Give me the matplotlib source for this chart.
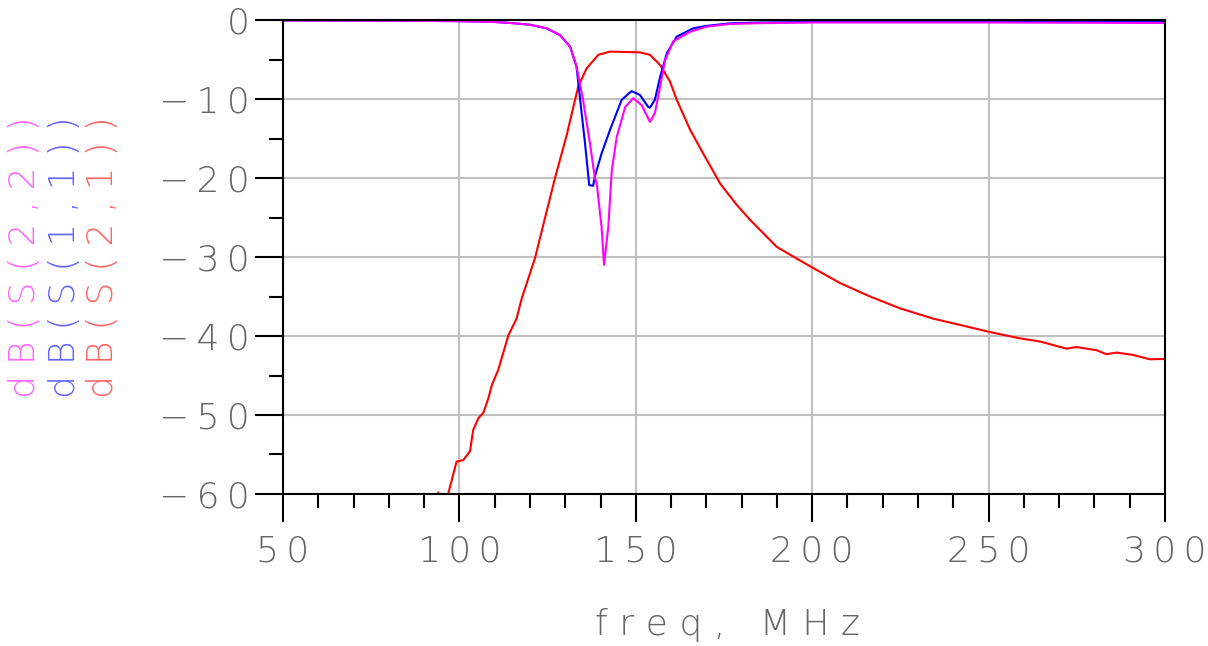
import numpy as np
from matplotlib import pyplot as plt
from matplotlib.ticker import MultipleLocator

# S21 (red)
f21 = [93, 94, 95.5, 96.8, 99.2, 101.1, 103, 103.9, 105.4, 106.8, 108.2, 109.2, 111, 113.9,
       116.2, 117.7, 121.4, 124.3, 127.1, 130.4, 132.3, 133.7, 136.1, 139.4, 142.7, 147.4,
       151.2, 154, 156.9, 159.7, 161.6, 165.4, 169.1, 173.9, 178.6, 182.4, 189.9, 195.6, 200.3,
       207.9, 216.4, 224.9, 234.3, 241.9, 250.4, 258.9, 264.6, 272.1, 274.9, 280.6, 283.4,
       286.3, 291, 295.7, 300]
s21 = [-63, -59.8, -62, -60, -55.9, -55.7, -54.6, -51.9, -50.4, -49.7, -47.9, -46.2, -44.3, -39.9,
       -37.8, -35.2, -30.2, -25.0, -20.0, -14.6, -11.0, -8.4, -6.1, -4.4, -4.0, -4.05,
       -4.1, -4.4, -5.7, -7.8, -10.1, -13.9, -16.9, -20.7, -23.4, -25.3, -28.7, -30.2, -31.4,
       -33.3, -35.0, -36.5, -37.8, -38.6, -39.5, -40.3, -40.7, -41.6, -41.4, -41.8, -42.3,
       -42.1, -42.4, -42.95, -42.9]

# S11 (blue)
f11 = [50, 80, 100, 110, 115.2, 120, 124.7, 128.5, 131.4, 133.2, 134.2, 135.6, 136.8, 137.9,
       138.4, 140.3, 142.7, 146, 148.8, 151.2, 153.5, 154, 155.4, 156.9, 158.8, 161.6, 166.3,
       170, 176.7, 185, 200, 250, 300]
s11 = [-0.05, -0.08, -0.15, -0.25, -0.4, -0.6, -1.05, -1.9, -3.4, -5.9, -10.0, -15.6, -20.9, -21.0,
       -19.8, -16.9, -13.9, -10.1, -9.0, -9.5, -11.0, -11.1, -10.1, -7.2, -4.2, -2.1, -1.05,
       -0.75, -0.42, -0.32, -0.25, -0.22, -0.25]

# S22 (magenta)
f22 = [50, 80, 100, 110, 115.2, 120, 124.7, 128.5, 131.4, 133.2, 135.0, 137, 138.4, 138.9, 140.3,
       141, 142.2, 143.2, 144.6, 147, 149.3, 151.7, 154, 155.4, 156.9, 158.3, 160.6, 165.4,
       170, 176.7, 185, 200, 250, 300]
s22 = [-0.05, -0.08, -0.15, -0.25, -0.4, -0.6, -1.05, -1.9, -3.4, -5.9, -10.0, -15.6, -20.0, -20.6, -26.2,
       -31.0, -26.2, -19.0, -14.8, -11.0, -9.9, -10.8, -12.9, -11.8, -8.4, -5.1, -2.7, -1.5,
       -0.85, -0.5, -0.4, -0.32, -0.32, -0.38]

xticks = [50, 100, 150, 200, 250, 300]
yticks = [0, -10, -20, -30, -40, -50, -60]
labels = ["dB(S(2,2))", "dB(S(1,1))", "dB(S(2,1))"]
label_colors = ["#ff66ff", "#6666ff", "#ff6666"]


def spread(s, gap="\u2009"):
    # spread the characters like the ADS stroke font
    return gap.join(s.replace("-", "\u2212"))


plt.rcParams['font.family'] = ['DejaVu Sans']
fig = plt.figure(figsize=(12.08, 6.46), dpi=100)
ax = fig.add_axes([283 / 1208, 1 - 494 / 646, (1165 - 283) / 1208, (494 - 20) / 646])

ax.plot(f21, s21, color="#ff0000", lw=1.5)
ax.plot(f11, s11, color="#0000ff", lw=1.5)
ax.plot(f22, s22, color="#ff00ff", lw=1.5)

ax.set_xlim(50, 300)
ax.set_ylim(-60, 0)
ax.set_xticks(xticks)
ax.set_yticks(yticks)
ax.xaxis.set_minor_locator(MultipleLocator(10))
ax.yaxis.set_minor_locator(MultipleLocator(5))
ax.set_xticklabels([spread(str(v)) for v in xticks])
ax.set_yticklabels([spread(str(v)) for v in yticks])

ax.grid(True, which="major", color="#c0c0c0", lw=1.5)
ax.set_axisbelow(True)
ax.tick_params(which="major", direction="out", length=20, width=1.5, color="black",
               labelsize=26, labelcolor="#666666", pad=4)
ax.tick_params(which="minor", direction="out", length=10, width=1.5, color="black")
ax.tick_params(axis="x", which="major", pad=9)
for sp in ax.spines.values():
    sp.set_linewidth(1.5)
    sp.set_color("black")
for t in ax.get_xticklabels() + ax.get_yticklabels():
    t.set_fontweight("light")

fig.text(727 / 1208, 1 - 625 / 646, "f r e q ,   M H z", ha="center", va="center",
         fontsize=26, color="#666666", fontweight="light")

xs = [25, 65, 103]
for x, lab, c in zip(xs, labels, label_colors):
    fig.text(x / 1208, 1 - 257 / 646, spread(lab, "\u2009\u200a"), rotation=90,
             ha="center", va="center", fontsize=26, color=c, fontweight="light")

plt.savefig("out.png", dpi=100)
